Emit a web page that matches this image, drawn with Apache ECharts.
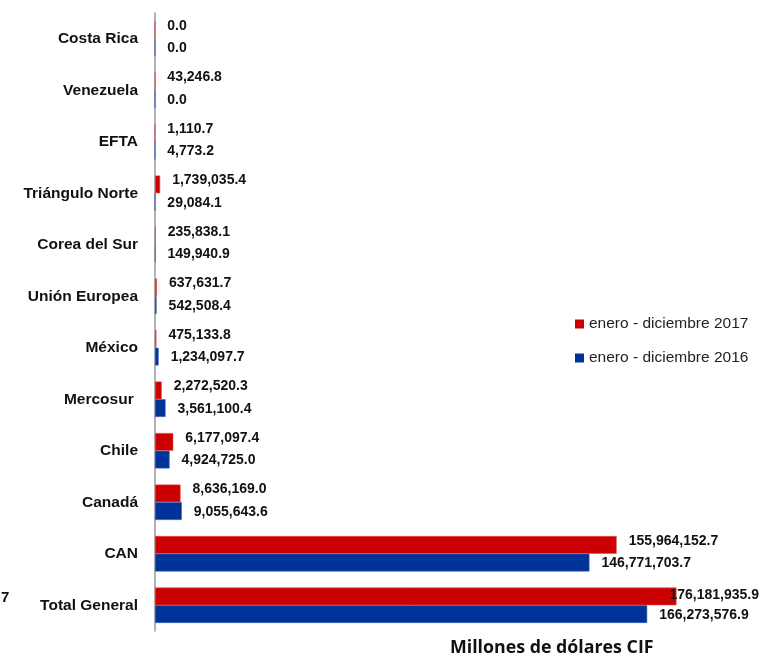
<!DOCTYPE html>
<html>
<head>
<meta charset="utf-8">
<script src="https://cdn.jsdelivr.net/npm/echarts@6/dist/echarts.min.js"></script>
<style>
  html, body { margin: 0; padding: 0; background: #fff; }
  #chart { width: 765px; height: 657px; }
</style>
</head>
<body>
<div id="chart"></div>
<script>
// categories, bottom to top
const categories = [
  "Total General", "CAN", "Canadá", "Chile", "Mercosur ", "México",
  "Unión Europea", "Corea del Sur", "Triángulo Norte", "EFTA", "Venezuela", "Costa Rica"
];
const values2017 = [
  176181935.9, 155964152.7, 8636169.0, 6177097.4, 2272520.3, 475133.8,
  637631.7, 235838.1, 1739035.4, 1110.7, 43246.8, 0.0
];
const values2016 = [
  166273576.9, 146771703.7, 9055643.6, 4924725.0, 3561100.4, 1234097.7,
  542508.4, 149940.9, 29084.1, 4773.2, 0.0, 0.0
];
const name2017 = "enero - diciembre 2017";
const name2016 = "enero - diciembre 2016";

const sans = '"Liberation Sans", Arial, sans-serif';

function fmt(v) {
  return v.toLocaleString("en-US", { minimumFractionDigits: 1, maximumFractionDigits: 1 });
}

function valueLabel(offsetY) {
  return {
    show: true,
    position: "right",
    distance: 12,
    offset: [0, offsetY],
    color: "#111",
    fontFamily: sans,
    fontWeight: "bold",
    fontSize: 14,
    formatter: (p) => fmt(p.value),
  };
}

// the total 2017 label sits over the end of its bar, as in the original
const data2017 = values2017.map((v, i) =>
  i === 0 ? { value: v, label: { distance: -7, offset: [0, -1] } } : v
);

const chart = echarts.init(document.getElementById("chart"));
const option = {
  animation: false,
  title: {
    text: "Millones de dólares CIF",
    left: 445,
    top: 634,
    textStyle: {
      fontFamily: '"Open Sans", sans-serif',
      fontWeight: "bold",
      fontSize: 17.8,
      color: "#111",
    },
  },
  legend: {
    orient: "vertical",
    left: 570,
    top: 311,
    icon: "rect",
    itemWidth: 9,
    itemHeight: 9,
    itemGap: 18,
    data: [name2017, name2016],
    itemStyle: { borderWidth: 0 },
    textStyle: {
      fontFamily: sans,
      fontSize: 15.5,
      color: "#222",
    },
  },
  grid: {
    left: 155,
    right: 18,
    top: 13,
    bottom: 26,
    containLabel: false,
    outerBoundsMode: "none",
  },
  xAxis: {
    type: "value",
    min: 0,
    max: 200000000,
    show: false,
  },
  yAxis: {
    type: "category",
    data: categories,
    axisLine: { lineStyle: { color: "#9a9a9a", width: 1.5 } },
    axisTick: { length: 5, lineStyle: { color: "#9a9a9a", width: 1.5 } },
    axisLabel: {
      margin: 17,
      color: "#111",
      fontFamily: sans,
      fontWeight: "bold",
      fontSize: 15.5,
    },
  },
  graphic: [
    {
      type: "text",
      left: 1,
      top: 590,
      style: {
        text: "7",
        fontFamily: sans,
        fontWeight: "bold",
        fontSize: 15,
        fill: "#111",
      },
    },
  ],
  series: [
    {
      name: name2017,
      type: "bar",
      data: data2017,
      barWidth: 17.7,
      barGap: "0%",
      itemStyle: { color: "#cc0000", borderColor: "#e04a4a", borderWidth: 0.6 },
      label: valueLabel(-4),
    },
    {
      name: name2016,
      type: "bar",
      data: values2016,
      barWidth: 17.7,
      barGap: "0%",
      itemStyle: { color: "#003399", borderColor: "#3a5fb0", borderWidth: 0.6 },
      label: valueLabel(1),
    },
  ],
};
chart.setOption(option);
</script>
</body>
</html>
